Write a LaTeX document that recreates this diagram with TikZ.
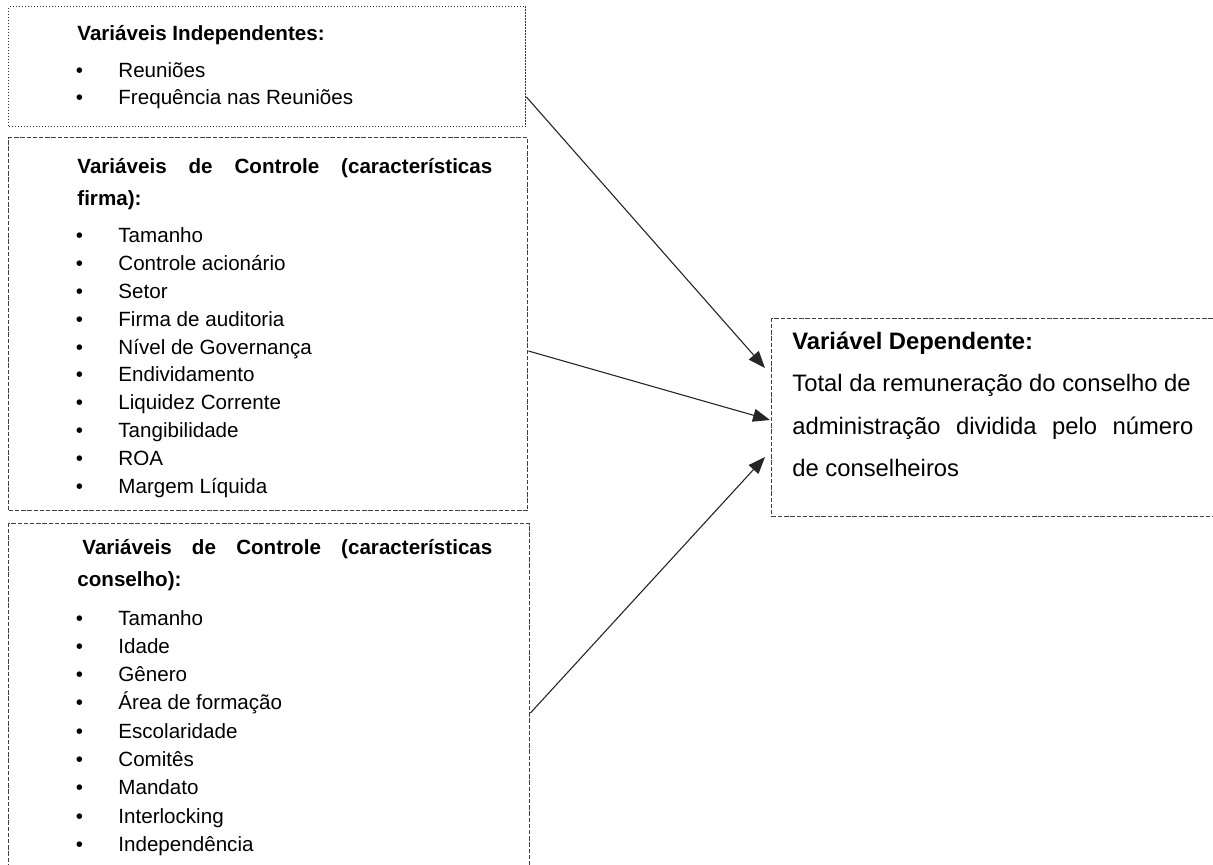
\documentclass[tikz,border=0pt]{standalone}
\usepackage{fontspec}
\setmainfont{Liberation Sans}
\usetikzlibrary{arrows.meta, calc}

\begin{document}
\begin{tikzpicture}[x=0.5pt, y=-0.5pt,
  dotbox/.style={draw=black!80, line width=0.7pt, dash pattern=on 0.6pt off 0.9pt, inner sep=0, anchor=north west},
  dashbox/.style={draw=black!75, line width=0.7pt, dash pattern=on 2.2pt off 0.9pt, inner sep=0, anchor=north west},
  item/.style={inner sep=0, anchor=base west, font=\fontsize{10.3pt}{12pt}\selectfont},
  head/.style={item, font=\fontsize{10.3pt}{12pt}\selectfont\bfseries},
  big/.style={inner sep=0, anchor=base west, font=\fontsize{11.9pt}{14pt}\selectfont},
  link/.style={draw=black!85, line width=0.55pt, -{Triangle[length=8.5pt, width=6.5pt]}}]
  \useasboundingbox (0,0) rectangle (1213,865);
  \clip (0,0) rectangle (1213,865);

  % boxes
  \node[dotbox, minimum width=258.5pt, minimum height=60pt] (indep) at (8,6) {};
  \node[dashbox, minimum width=259.5pt, minimum height=186.5pt] (firm) at (8,137) {};
  \node[dashbox, minimum width=260.5pt, minimum height=180pt] (board) at (8,523) {};
  \node[dashbox, minimum width=223.5pt, minimum height=99pt] (dep) at (771,318) {};

  % independent variables
  \node[head] (indep-h) at (77,41) {Variáveis Independentes:};
  \foreach \lbl [count=\i from 0] in {Reuniões, Frequência nas Reuniões}
    \node[item] (indep-\i) at (75.5,78+27*\i) {\makebox[21.25pt][l]{\textbullet}\lbl};

  % control variables, firm
  \node[head] (firm-h1) at (77,174) {\makebox[207.5pt][s]{Variáveis de Controle (características}};
  \node[head] (firm-h2) at (77,206) {firma):};
  \foreach \lbl [count=\i from 0] in {Tamanho, Controle acionário, Setor, Firma de auditoria,
      Nível de Governança, Endividamento, Liquidez Corrente, Tangibilidade, ROA, Margem Líquida}
    \node[item] (firm-\i) at (75.5,243+27.8*\i) {\makebox[21.25pt][l]{\textbullet}\lbl};

  % control variables, board
  \node[head] (board-h1) at (82,554) {\makebox[205pt][s]{Variáveis de Controle (características}};
  \node[head] (board-h2) at (77,586) {conselho):};
  \foreach \lbl [count=\i from 0] in {Tamanho, Idade, Gênero, Área de formação, Escolaridade,
      Comitês, Mandato, Interlocking, Independência}
    \node[item] (board-\i) at (75.5,625+28.3*\i) {\makebox[21.25pt][l]{\textbullet}\lbl};

  % dependent variable
  \node[big, font=\fontsize{11.9pt}{14pt}\selectfont\bfseries] (dep-h) at (792,350) {Variável Dependente:};
  \node[big] (dep-1) at (792,392) {Total da remuneração do conselho de};
  \node[big] (dep-2) at (792,434) {\makebox[200.5pt][s]{administração dividida pelo número}};
  \node[big] (dep-3) at (792,476) {de conselheiros};

  % links
  \draw[link] ($(indep.north east)+(0,91)$) -- ($(dep.north west)+(-6,50)$);
  \draw[link] ($(firm.north east)+(0,214)$) -- ($(dep.north west)+(-1,102)$);
  \draw[link] ($(board.north east)+(0,190)$) -- ($(dep.north west)+(-6,139)$);
\end{tikzpicture}
\end{document}
